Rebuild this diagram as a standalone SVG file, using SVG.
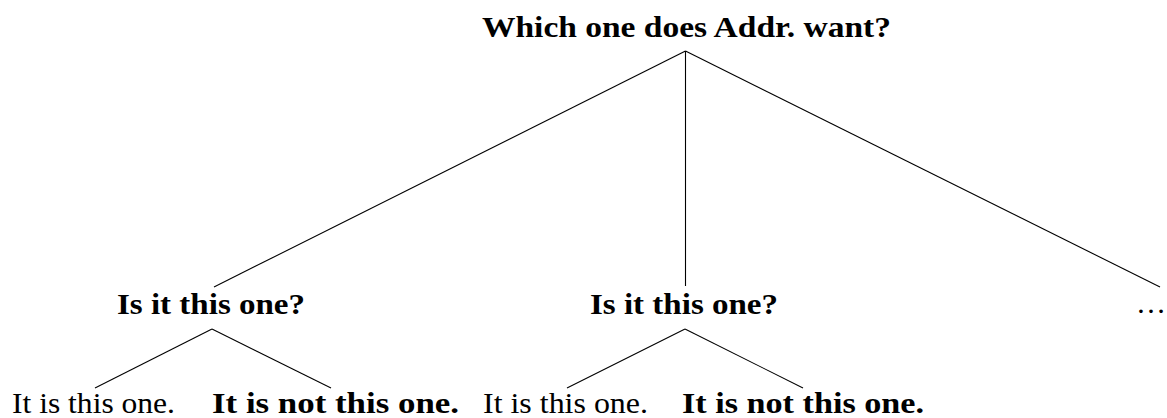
<svg xmlns="http://www.w3.org/2000/svg" width="1167" height="418" viewBox="0 0 1167 418">
<style>
text{font-family:"Liberation Serif","Times New Roman",serif;font-size:30px;fill:#000;text-anchor:middle}
.b{font-weight:bold}
.e{stroke:#000;stroke-width:1.1;fill:none}
</style>
<rect width="1167" height="418" fill="#fff"/>
<g id="connectors">
<line class="e" x1="685.5" y1="51" x2="214" y2="287"/>
<line class="e" x1="685.5" y1="51" x2="685.5" y2="286"/>
<line class="e" x1="685.5" y1="51" x2="1160" y2="287"/>
<line class="e" x1="212" y1="329" x2="95" y2="388"/>
<line class="e" x1="212" y1="329" x2="331" y2="388"/>
<line class="e" x1="685" y1="329" x2="567" y2="388"/>
<line class="e" x1="685" y1="329" x2="803" y2="388"/>
</g>
<g id="root"><text class="b" x="686.5" y="37" textLength="409" lengthAdjust="spacingAndGlyphs">Which one does Addr. want?</text></g>
<g id="q1"><text class="b" x="211" y="314" textLength="188" lengthAdjust="spacingAndGlyphs">Is it this one?</text></g>
<g id="q2"><text class="b" x="684" y="314" textLength="188" lengthAdjust="spacingAndGlyphs">Is it this one?</text></g>
<g id="more"><text x="1166" y="313" style="text-anchor:end">…</text></g>
<g id="a1"><text x="93.5" y="413" textLength="163" lengthAdjust="spacingAndGlyphs">It is this one.</text></g>
<g id="b1"><text class="b" x="335.5" y="413" textLength="247" lengthAdjust="spacingAndGlyphs">It is not this one.</text></g>
<g id="a2"><text x="565.5" y="413" textLength="165" lengthAdjust="spacingAndGlyphs">It is this one.</text></g>
<g id="b2"><text class="b" x="803" y="413" textLength="242" lengthAdjust="spacingAndGlyphs">It is not this one.</text></g>
</svg>
